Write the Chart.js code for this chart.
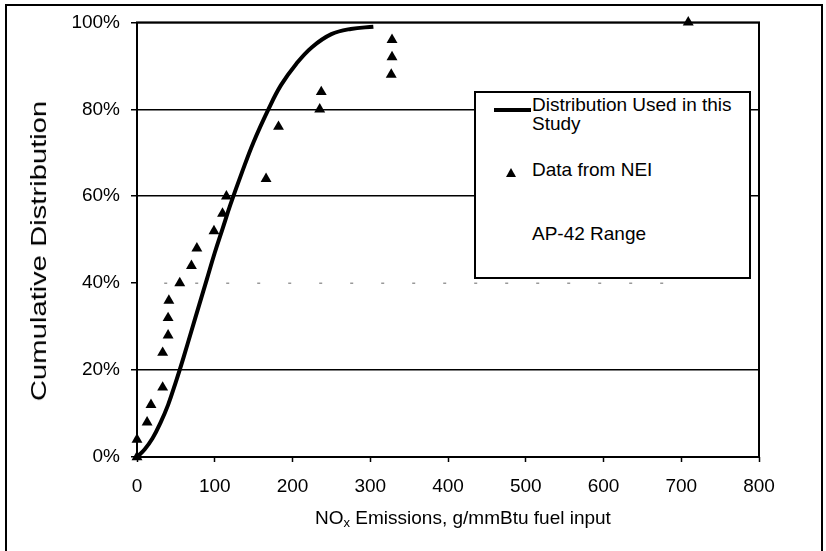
<!DOCTYPE html>
<html><head><meta charset="utf-8">
<script src="https://cdn.jsdelivr.net/npm/chart.js@4.4.1/dist/chart.umd.min.js"></script>
<style>
html,body{margin:0;padding:0;background:#fff;overflow:hidden;}
#wrap{position:relative;width:826px;height:551px;font-family:"Liberation Sans",Arial,sans-serif;color:#000;overflow:hidden;}
#c{position:absolute;left:0;top:0;}
#frame{position:absolute;left:5px;top:4px;width:818px;height:620px;border:2px solid #000;box-sizing:border-box;pointer-events:none;}
#legend{position:absolute;left:474px;top:91px;width:277px;height:188px;border:2px solid #000;background:#fff;box-sizing:border-box;}
.lt{position:absolute;font-size:19px;line-height:19px;white-space:nowrap;}
#lline{position:absolute;left:494px;top:108px;width:37px;height:4px;background:#000;}
#ltri{position:absolute;left:506px;top:168px;width:0;height:0;border-left:5px solid transparent;border-right:5px solid transparent;border-bottom:9px solid #000;}
#xtitle{position:absolute;left:263px;width:400px;top:508px;text-align:center;font-size:19px;line-height:20px;white-space:nowrap;}
#xtitle sub{font-size:13px;vertical-align:-3px;line-height:0;}
#ytitle{position:absolute;left:39px;top:251px;font-size:22px;line-height:22px;white-space:nowrap;transform-origin:50% 50%;}
</style>
</head><body>
<div id="wrap">
<canvas id="c" width="826" height="551"></canvas>
<div id="frame"></div>
<div id="legend"></div>
<div id="lline"></div>
<div class="lt" style="left:532px;top:95px;">Distribution Used in this<br>Study</div>
<div id="ltri"></div>
<div class="lt" style="left:532px;top:160px;">Data from NEI</div>
<div class="lt" style="left:532px;top:224px;">AP-42 Range</div>
<div id="xtitle">NO<sub>x</sub> Emissions, g/mmBtu fuel input</div>
<div id="ytitle">Cumulative Distribution</div>
</div>
<script>
// Distribution used in this study
const curveX = [0, 10, 20, 30, 40, 50, 60, 70, 80, 90, 100, 110, 120, 135, 150, 169, 185, 205, 225, 250, 275, 304];
const curveY = [0, 1.8, 4.3, 7.8, 12, 17.3, 23, 29, 35, 41, 47, 52.5, 58, 65.5, 72.5, 80, 85.5, 90.5, 94.3, 97.3, 98.5, 99];
// Data from NEI
const neiX = [0, 0, 13, 18, 33, 33, 40, 40, 41, 55, 70, 77, 99, 110, 115, 166, 182, 235, 237, 327, 328, 328, 709];
const neiY = [0, 4, 8, 12, 16, 24, 28, 32, 36, 40, 44, 48, 52, 56, 60, 64, 76, 80, 84, 88, 92, 96, 100];
// AP-42 range
const apX = [35, 690];
const apY = [40, 40];
// Ticks
const xTicks = [0, 100, 200, 300, 400, 500, 600, 700, 800];
const yTicks = [0, 20, 40, 60, 80, 100];

const zip = (xs, ys) => xs.map((x, i) => ({x: x, y: ys[i]}));

const areaBorder = {
  id: 'areaBorder',
  beforeDatasetsDraw(chart) {
    const a = chart.chartArea, ctx = chart.ctx;
    ctx.save();
    ctx.strokeStyle = '#000';
    ctx.lineWidth = 2;
    ctx.strokeRect(a.left, a.top, a.right - a.left, a.bottom - a.top);
    ctx.restore();
  }
};

new Chart(document.getElementById('c'), {
  type: 'scatter',
  data: {
    datasets: [
      {
        label: 'AP-42 Range', type: 'line', data: zip(apX, apY),
        borderColor: '#999', borderWidth: 1.5, borderDash: [3, 28], pointRadius: 0, fill: false
      },
      {
        label: 'Distribution Used in this Study', type: 'line', data: zip(curveX, curveY),
        borderColor: '#000', borderWidth: 4, pointRadius: 0, fill: false,
        tension: 0.4, clip: false
      },
      {
        label: 'Data from NEI', data: zip(neiX, neiY), clip: false,
        pointStyle: 'triangle', pointRadius: 6.3, backgroundColor: '#000', borderColor: '#000', borderWidth: 0
      }
    ]
  },
  options: {
    responsive: false,
    animation: false,
    devicePixelRatio: 1,
    layout: { padding: { top: 22, right: 67, left: 0, bottom: 0 } },
    plugins: { legend: { display: false }, tooltip: { enabled: false } },
    scales: {
      x: {
        type: 'linear', min: 0, max: 800,
        afterBuildTicks: s => { s.ticks = xTicks.map(v => ({value: v})); },
        afterFit: s => { s.height = 94; },
        ticks: { color: '#000', font: { family: 'Liberation Sans', size: 19 }, padding: 13, maxRotation: 0 },
        grid: { drawOnChartArea: false, drawTicks: true, tickLength: 5, tickColor: '#000', tickWidth: 1.5 },
        border: { display: false }
      },
      y: {
        min: 0, max: 100,
        afterBuildTicks: s => { s.ticks = yTicks.map(v => ({value: v})); },
        afterFit: s => { s.width = 137; },
        ticks: { color: '#000', font: { family: 'Liberation Sans', size: 19 }, padding: 11, callback: v => v + '%' },
        grid: {
          color: ctx => (ctx.tick && ctx.tick.value === 40) ? 'rgba(0,0,0,0)' : '#000',
          lineWidth: 1.5, drawTicks: true, tickLength: 6, tickColor: '#000', tickWidth: 1.5
        },
        border: { display: false }
      }
    }
  },
  plugins: [areaBorder]
});

// y title: rotate and stretch to the reference length
const yt = document.getElementById('ytitle');
const w = yt.offsetWidth;
const k = 300 / w;
yt.style.transform = 'translate(-50%,-50%) rotate(-90deg) scale(' + k + ',1)';
</script>
</body></html>
